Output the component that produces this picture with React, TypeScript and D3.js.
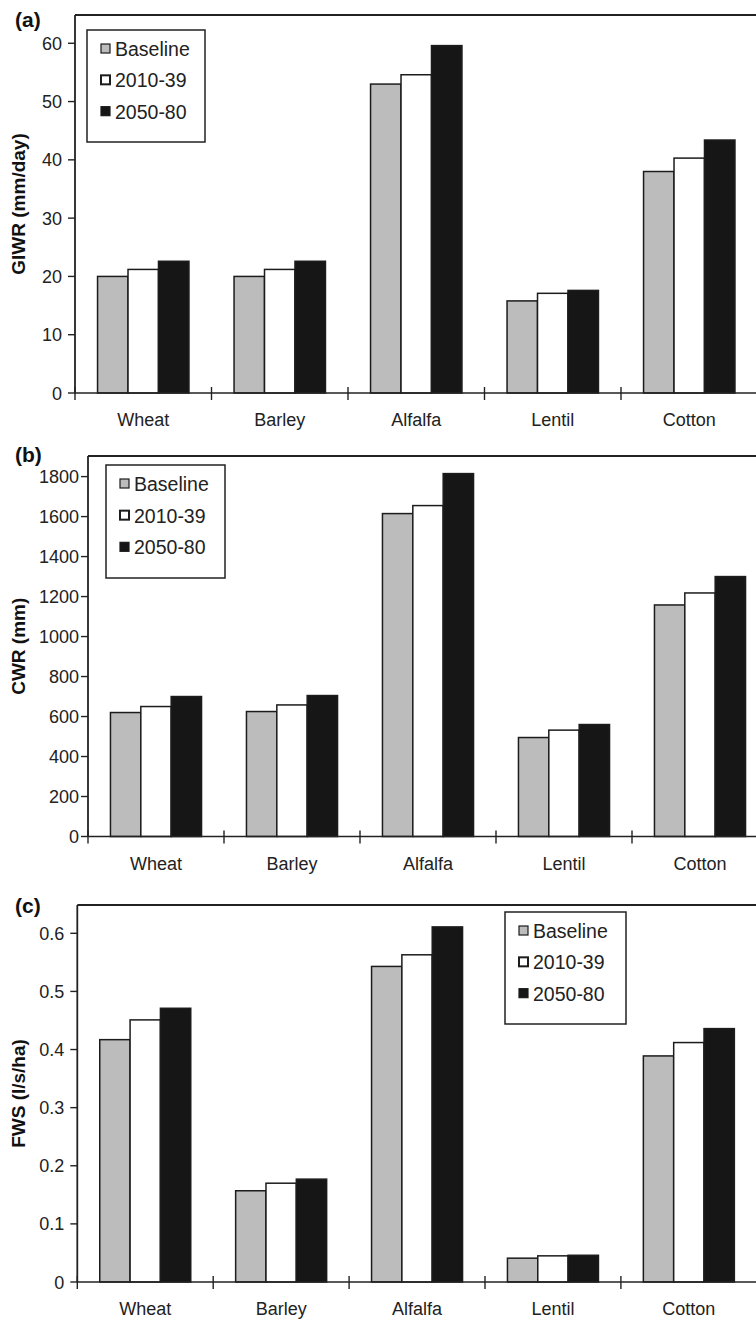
import React from "react";
import * as d3 from "d3";

const categories = ["Wheat", "Barley", "Alfalfa", "Lentil", "Cotton"];
const seriesNames = ["Baseline", "2010-39", "2050-80"];

const giwrBaseline = [20.0, 20.0, 53.0, 15.8, 38.0];
const giwr2010 = [21.2, 21.2, 54.6, 17.1, 40.3];
const giwr2050 = [22.6, 22.6, 59.6, 17.6, 43.4];
const giwrTicks = [0, 10, 20, 30, 40, 50, 60];

const cwrBaseline = [620, 625, 1615, 495, 1158];
const cwr2010 = [650, 658, 1655, 532, 1218];
const cwr2050 = [700, 705, 1815, 560, 1300];
const cwrTicks = [0, 200, 400, 600, 800, 1000, 1200, 1400, 1600, 1800];

const fwsBaseline = [0.417, 0.157, 0.543, 0.041, 0.389];
const fws2010 = [0.451, 0.170, 0.563, 0.045, 0.412];
const fws2050 = [0.471, 0.177, 0.611, 0.046, 0.436];
const fwsTicks = [0, 0.1, 0.2, 0.3, 0.4, 0.5, 0.6];

const fills = ["#bcbcbc", "#ffffff", "#161616"];
const FONT = "'Liberation Sans', Arial, Helvetica, sans-serif";

type PanelProps = {
  tag: string;
  title: string;
  series: number[][];
  ticks: number[];
  yMax: number;
  axisX: number;
  top: number;
  zeroY: number;
  catW: number;
  labelGap: number;
  legend: { x: number; y: number; w: number; h: number };
  tagY: number;
};

function Panel(p: PanelProps) {
  const x = d3
    .scaleBand<string>()
    .domain(categories)
    .range([p.axisX, p.axisX + p.catW * categories.length])
    .paddingInner(0)
    .paddingOuter(0);
  const sub = d3
    .scaleBand<string>()
    .domain(seriesNames)
    .range([0, x.bandwidth()])
    .paddingInner(0)
    .paddingOuter(0.74);
  const y = d3.scaleLinear().domain([0, p.yMax]).range([p.zeroY, p.top]);
  const stroke = "#1c1c1c";
  const itemGap = (p.legend.h - 18) / 3;
  return (
    <g>
      <text x={15} y={p.tagY} fontFamily={FONT} fontWeight="bold" fontSize={21} fill="#111">
        {p.tag}
      </text>
      {/* top frame line */}
      <line x1={p.axisX} x2={760} y1={p.top} y2={p.top} stroke="#222" strokeWidth={2} />
      {/* bars */}
      {categories.map((c, ci) =>
        seriesNames.map((s, si) => {
          const v = p.series[si][ci];
          return (
            <rect
              key={c + s}
              x={(x(c) as number) + (sub(s) as number)}
              y={y(v)}
              width={sub.bandwidth()}
              height={y(0) - y(v)}
              fill={fills[si]}
              stroke={stroke}
              strokeWidth={1.5}
            />
          );
        })
      )}
      {/* x axis */}
      <line x1={p.axisX} x2={760} y1={y(0)} y2={y(0)} stroke="#222" strokeWidth={1.6} />
      {categories.map((c, ci) => (
        <line
          key={"xt" + c}
          x1={x(c) as number}
          x2={x(c) as number}
          y1={y(0) - 6}
          y2={y(0) + 7}
          stroke="#222"
          strokeWidth={1.4}
        />
      ))}
      {categories.map((c) => (
        <text
          key={"xl" + c}
          x={(x(c) as number) + x.bandwidth() / 2}
          y={y(0) + 33}
          textAnchor="middle"
          fontFamily={FONT}
          fontSize={18}
          fill="#222"
        >
          {c}
        </text>
      ))}
      {/* y axis */}
      <line x1={p.axisX} x2={p.axisX} y1={p.top} y2={y(0)} stroke="#222" strokeWidth={1.8} />
      {p.ticks.map((t) => (
        <g key={"yt" + t}>
          <line x1={p.axisX - 7} x2={p.axisX} y1={y(t)} y2={y(t)} stroke="#222" strokeWidth={1.4} />
          <text
            x={p.axisX - p.labelGap}
            y={y(t) + 6.5}
            textAnchor="end"
            fontFamily={FONT}
            fontSize={18}
            fill="#222"
          >
            {String(t)}
          </text>
        </g>
      ))}
      <text
        transform={`translate(25,${(p.top + p.zeroY) / 2}) rotate(-90)`}
        textAnchor="middle"
        fontFamily={FONT}
        fontWeight="bold"
        fontSize={19}
        fill="#111"
      >
        {p.title}
      </text>
      {/* legend */}
      <rect
        x={p.legend.x}
        y={p.legend.y}
        width={p.legend.w}
        height={p.legend.h}
        fill="#fff"
        stroke="#222"
        strokeWidth={1.5}
      />
      {seriesNames.map((s, si) => {
        const cy = p.legend.y + 19 + itemGap * si;
        return (
          <g key={"lg" + s}>
            <rect
              x={p.legend.x + 14}
              y={cy - 5}
              width={9}
              height={9}
              fill={fills[si]}
              stroke={stroke}
              strokeWidth={si === 1 ? 2 : 1.2}
            />
            <text x={p.legend.x + 28} y={cy + 7} fontFamily={FONT} fontSize={19.5} fill="#222">
              {s}
            </text>
          </g>
        );
      })}
    </g>
  );
}

export default function App() {
  return (
    <svg
      width={756}
      height={1322}
      style={{ position: "absolute", left: 0, top: 0, background: "#fff" }}
    >
      <rect x={0} y={0} width={756} height={1322} fill="#fff" />
      <Panel
        tag="(a)"
        tagY={27}
        title="GIWR (mm/day)"
        series={[giwrBaseline, giwr2010, giwr2050]}
        ticks={giwrTicks}
        yMax={64.85}
        axisX={75}
        top={15}
        zeroY={393}
        catW={136.5}
        labelGap={13}
        legend={{ x: 87, y: 30, w: 118, h: 112 }}
      />
      <Panel
        tag="(b)"
        tagY={462}
        title="CWR (mm)"
        series={[cwrBaseline, cwr2010, cwr2050]}
        ticks={cwrTicks}
        yMax={1903}
        axisX={88}
        top={456}
        zeroY={836.5}
        catW={136}
        labelGap={9}
        legend={{ x: 106, y: 465, w: 119, h: 113 }}
      />
      <Panel
        tag="(c)"
        tagY={913}
        title="FWS (l/s/ha)"
        series={[fwsBaseline, fws2010, fws2050]}
        ticks={fwsTicks}
        yMax={0.6487}
        axisX={77.3}
        top={905}
        zeroY={1282}
        catW={135.9}
        labelGap={13}
        legend={{ x: 505, y: 912, w: 121, h: 112 }}
      />
    </svg>
  );
}
